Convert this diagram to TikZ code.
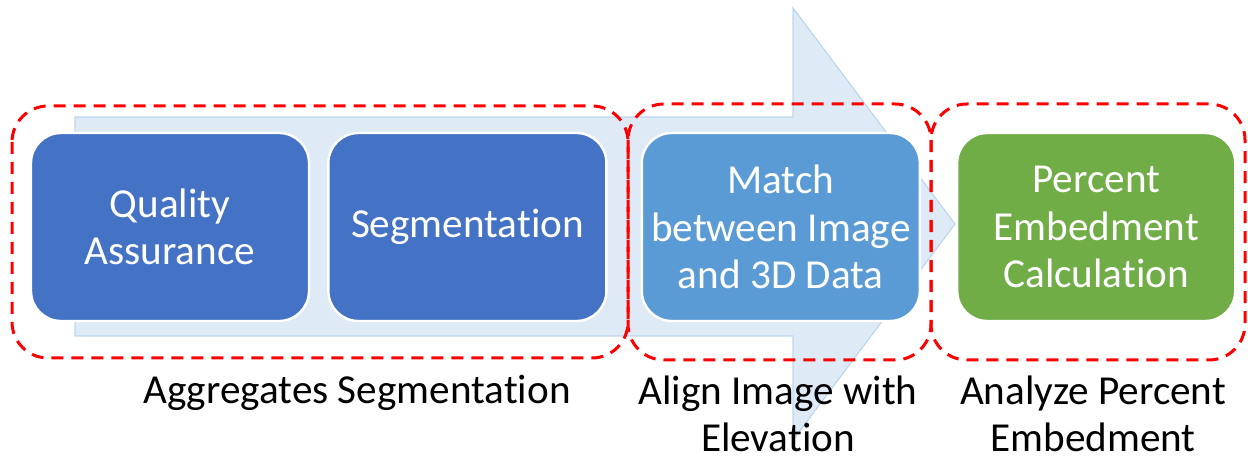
\documentclass[tikz,border=0pt]{standalone}
\usepackage{fontspec}
\setmainfont{Carlito}[Ligatures={NoCommon,NoContextual}]
\usetikzlibrary{positioning}

\definecolor{darkblue}{RGB}{68,114,196}
\definecolor{midblue}{RGB}{91,155,213}
\definecolor{leafgreen}{RGB}{112,173,71}
\definecolor{arrowfill}{RGB}{222,235,247}
\definecolor{arrowline}{RGB}{189,215,238}

\begin{document}
\begin{tikzpicture}[x=0.5pt,y=-0.5pt,
    box/.style={draw=white,line width=1.2pt,rounded corners=15pt,minimum width=139pt,minimum height=94pt,
      text=white,align=center,font=\fontsize{20.6}{23.8}\selectfont},
    group/.style={draw=red,line width=1.5pt,dash pattern=on 6pt off 4pt,rounded corners=18pt},
    caption/.style={align=center,font=\fontsize{20.6}{23.8}\selectfont}]
      \useasboundingbox (0,0) rectangle (1248,459);

      \draw[fill=arrowfill,draw=arrowline,line width=0.6pt] (75,117) -- (793,117) -- (793,8) -- (955,224)
        -- (793,440) -- (793,336) -- (75,336) -- cycle;

      \node[box,fill=darkblue] (1) at (170,227) {Quality\\Assurance};
      \node[box,fill=darkblue,right=8.5pt of 1] (2) {Segmentation};
      \node[box,fill=midblue,right=16.5pt of 2] (3) {Match\\between Image\\and 3D Data};
      \node[box,fill=leafgreen,right=17.5pt of 3] (4) {Percent\\Embedment\\Calculation};

      \draw[group] (12,106) rectangle (628,358);
      \draw[group] (628,104) rectangle (931,360);
      \draw[group] (931,104) rectangle (1245,360);

      \node[caption] (5) at (357,393) {Aggregates Segmentation};
      \node[caption] (6) at (778,414) {Align Image with\\Elevation};
      \node[caption] (7) at (1093,414) {Analyze Percent\\Embedment};
    \end{tikzpicture}
\end{document}
